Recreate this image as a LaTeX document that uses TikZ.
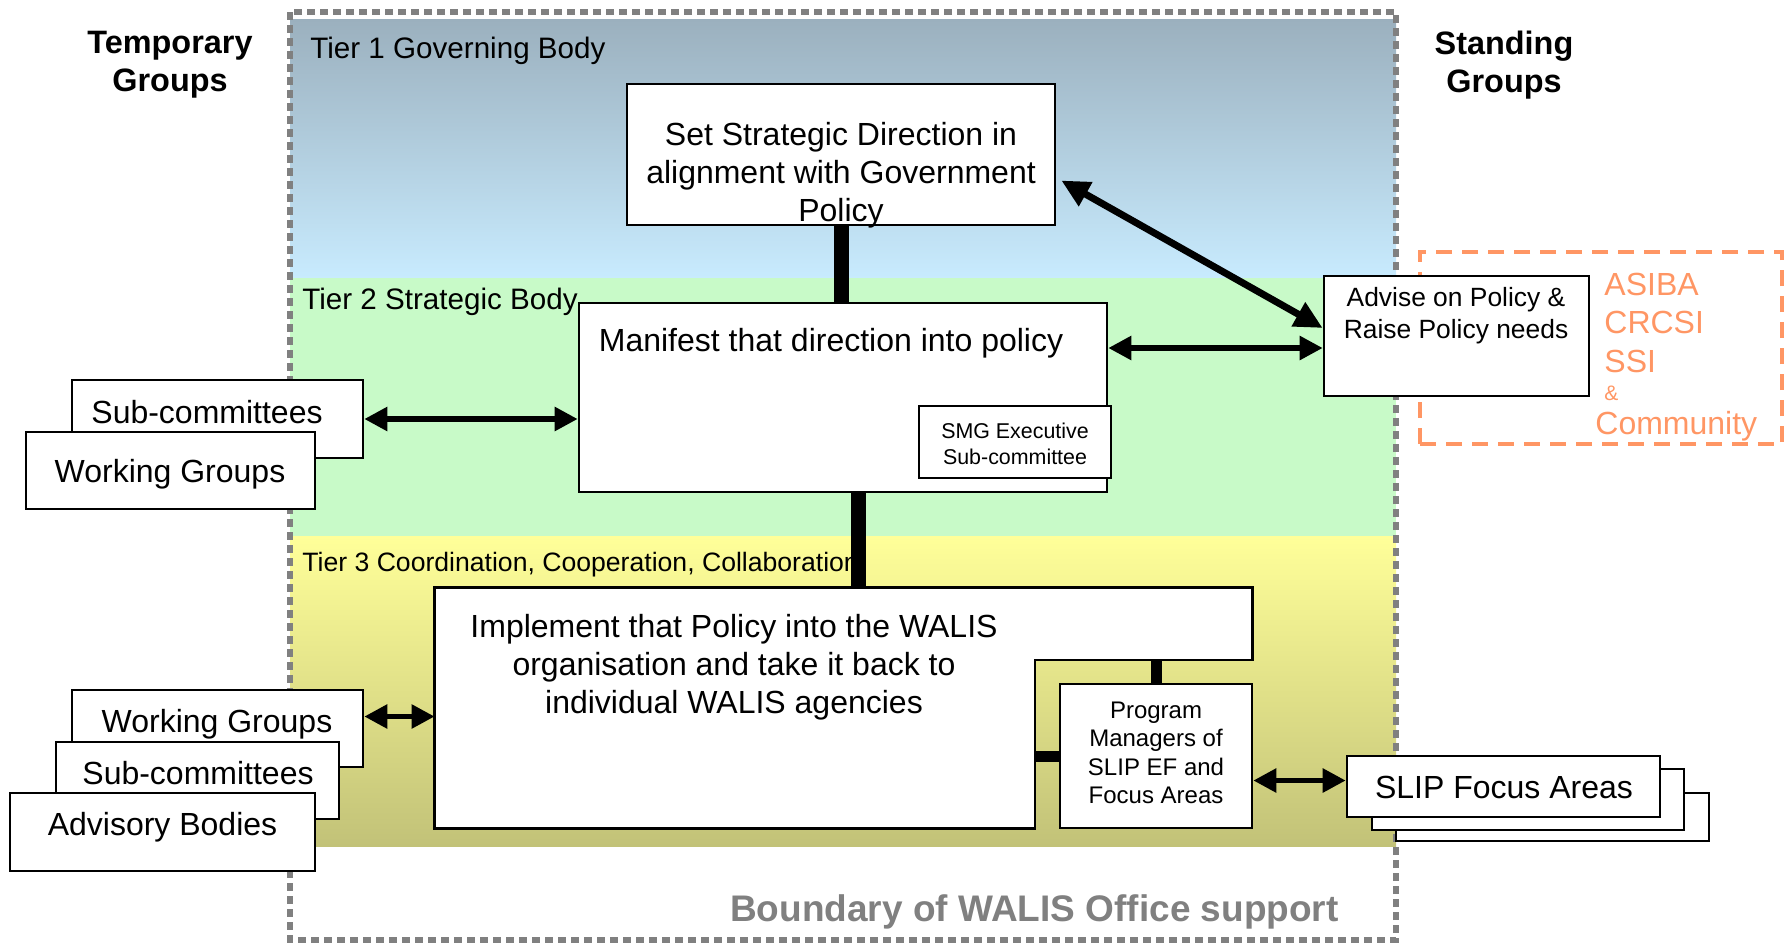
\documentclass[tikz,border=0pt]{standalone}
\usepackage{fontspec}
\setmainfont{Liberation Sans}
\usetikzlibrary{arrows.meta,calc}
\definecolor{tieronetop}{RGB}{155,176,190}
\definecolor{tieronebot}{RGB}{200,235,254}
\definecolor{tiertwo}{RGB}{200,250,200}
\definecolor{tierthreetop}{RGB}{255,255,153}
\definecolor{tierthreebot}{RGB}{194,194,120}
\definecolor{standorange}{RGB}{255,150,100}
\definecolor{boundgray}{RGB}{128,128,128}
\newcommand{\setfs}[2]{\fontsize{#1}{#2}\selectfont}
\tikzset{
  box/.style={draw=black, fill=white, line width=1.3pt, rectangle, inner sep=0pt},
  boxtext/.style={align=center, inner sep=0pt, font=\setfs{16}{19}},
  tierlabel/.style={anchor=west, inner sep=0pt, font=\setfs{14.8}{17}},
  grouphead/.style={align=center, inner sep=0pt, font=\bfseries\setfs{16.2}{18.8}},
  standtext/.style={anchor=west, inner sep=0pt, text=standorange, font=\setfs{16}{19}},
  biarrow/.style={line width=2.75pt, {Triangle[length=11.5pt,width=11.5pt]}-{Triangle[length=11.5pt,width=11.5pt]}},
  thicklink/.style={line width=7.5pt},
  thinlink/.style={line width=5.5pt}
}

\begin{document}
\begin{tikzpicture}[x=0.5pt, y=-0.5pt]
\useasboundingbox (0,0) rectangle (1786,943);
% tiers
\shade[top color=tieronetop, bottom color=tieronebot] (290,19) rectangle (1396,278);
\fill[tiertwo] (290,278) rectangle (1396,536);
\shade[top color=tierthreetop, bottom color=tierthreebot] (290,536) rectangle (1396,846);
\draw[boundgray, line width=2.75pt, dash pattern=on 4pt off 2.5pt] (290,12) rectangle (1396,940);
\node[tierlabel] (tierone) at (310,51) {Tier 1 Governing Body};
\node[tierlabel] (tiertwo) at (302,302) {Tier 2 Strategic Body};
\node[tierlabel, font=\setfs{13.3}{16}] (tierthree) at (302,565) {Tier 3 Coordination, Cooperation, Collaboration};
\node[grouphead] (temporary) at (170,65) {Temporary\\Groups};
\node[grouphead] (standing) at (1504,65) {Standing\\Groups};
\node[anchor=east, inner sep=0pt, text=boundgray, font=\bfseries\setfs{18.5}{22}] (boundary) at (1339,912) {Boundary of WALIS Office support};

% standing groups
\node[draw=standorange, line width=2.25pt, dash pattern=on 8pt off 5pt, minimum width=181pt, minimum height=96pt] (standbox) at (1601,348) {};
\foreach \name/\yy in {ASIBA/284, CRCSI/322, SSI/361}
  \node[standtext] (\name) at (1604,\yy) {\name};
\node[standtext, font=\setfs{10.5}{12}] (amp) at (1604,393) {\&};
\node[standtext] (community) at (1595,426) {Community};

% boxes
\node[box, minimum width=214pt, minimum height=70.5pt] (strategy) at (841,154.5) {};
\node[box, minimum width=264pt, minimum height=94.5pt] (manifest) at (843,397.5) {};
\node[box, minimum width=96pt, minimum height=36pt] (smg) at (1015,442) {};
\node[box, minimum width=132.5pt, minimum height=60pt] (advise) at (1456.5,336) {};
\node[box, minimum width=145.5pt, minimum height=39pt] (subctwo) at (217.5,419) {};
\node[box, minimum width=144.5pt, minimum height=38.5pt] (wgtwo) at (170.5,470.5) {};
\node[box, minimum width=145.5pt, minimum height=38.5pt] (wgthree) at (217.5,728.5) {};
\node[box, minimum width=141.5pt, minimum height=38.5pt] (subcthree) at (197.5,780.5) {};
\node[box, minimum width=152.5pt, minimum height=39pt] (advisory) at (162.5,832) {};
\node[minimum width=408.5pt, minimum height=120pt, inner sep=0pt] (implement) at (843.5,708) {};
\coordinate (notch) at (1035,660);
\draw[box] (implement.north west) -- (implement.north east) -- (implement.east |- notch) -- (notch)
  -- (notch |- implement.south) -- (implement.south west) -- cycle;
\node[box, minimum width=96pt, minimum height=72pt] (pm) at (1156,756) {};
\node[box, minimum width=156.5pt, minimum height=24pt] (slipthree) at (1552.5,817) {};
\node[box, minimum width=156pt, minimum height=30.5pt] (sliptwo) at (1528,799.5) {};
\node[box, minimum width=156.5pt, minimum height=30.5pt] (slipone) at (1503.5,786.5) {};

% links
\draw[thicklink] (strategy.south) -- (strategy.south |- manifest.north);
\draw[thicklink] ([xshift=7.5pt]manifest.south) -- ([xshift=7.5pt]manifest.south |- implement.north);
\draw[thinlink] (pm.north) -- (pm.north |- notch);
\draw[thinlink] (pm.west) -- (pm.west -| notch);
\draw[biarrow, line width=3.5pt, {Triangle[length=14pt,width=13pt]}-{Triangle[length=14pt,width=13pt]}]
  ([xshift=2.5pt,yshift=-13pt]strategy.east) -- ([yshift=4pt]advise.west);
\draw[biarrow] ([yshift=-6pt]advise.west -| manifest.east) -- ([yshift=-6pt]advise.west);
\draw[biarrow] (subctwo.east) -- (subctwo.east -| manifest.west);
\draw[biarrow] ([yshift=6pt]wgthree.east) -- ([yshift=6pt]wgthree.east -| implement.west);
\draw[biarrow] ([yshift=3pt]slipone.west -| pm.east) -- ([yshift=3pt]slipone.west);

% texts
\node[boxtext] (strategytext) at (841,175.5) {Set Strategic Direction in\\alignment with Government\\Policy};
\node[boxtext] (manifesttext) at (831,343) {Manifest that direction into policy};
\node[boxtext, font=\setfs{10.7}{13}] (smgtext) at (1015,444) {SMG Executive\\Sub-committee};
\node[boxtext, font=\setfs{13.2}{16}] (advisetext) at (1456,315.5) {Advise on Policy \&\\Raise Policy needs};
\node[boxtext] (subctwotext) at (207,412) {Sub-committees};
\node[boxtext] (wgtwotext) at (170,474) {Working Groups};
\node[boxtext] (wgthreetext) at (217,724) {Working Groups};
\node[boxtext] (subcthreetext) at (198,773) {Sub-committees};
\node[boxtext] (advisorytext) at (162.5,827.5) {Advisory Bodies};
\node[boxtext] (implementtext) at (734,667) {Implement that Policy into the WALIS\\organisation and take it back to\\individual WALIS agencies};
\node[boxtext, font=\setfs{12}{14.25}] (pmtext) at (1156,753) {Program\\Managers of\\SLIP EF and\\Focus Areas};
\node[boxtext] (sliptext) at (1504,787) {SLIP Focus Areas};
\end{tikzpicture}
\end{document}
